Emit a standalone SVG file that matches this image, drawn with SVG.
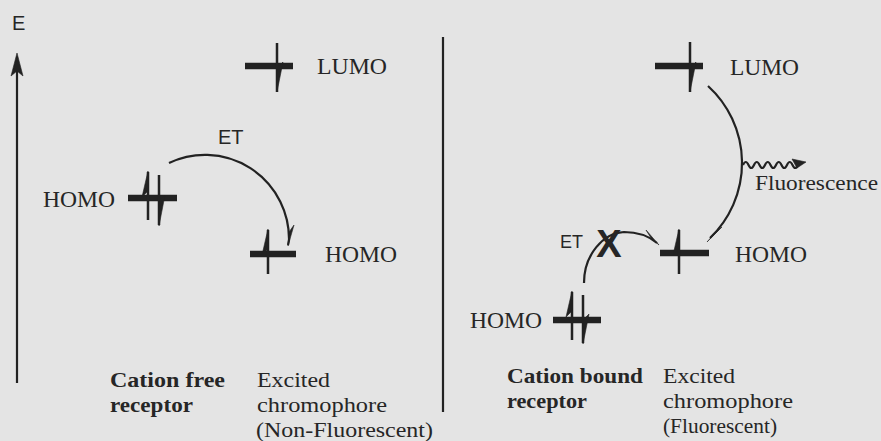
<svg xmlns="http://www.w3.org/2000/svg" width="881" height="441" viewBox="0 0 881 441">
<style>
.bg{fill:#e4e4e4}
.lvl{stroke:#222;stroke-width:6.5;fill:none}
.el{stroke:#222;stroke-width:2.5;fill:none}
.hd{fill:#222;stroke:#222;stroke-width:0.6;stroke-linejoin:round}
.ln{stroke:#222;stroke-width:2.2;fill:none}
.serif{font-family:"Liberation Serif","Times New Roman",serif;fill:#262626}
.lab{font-size:23px}
.cap{font-size:22px}
.bold{font-weight:bold}
.sans{font-family:"Liberation Sans",Arial,sans-serif;fill:#262626}
</style>
<rect class="bg" x="0" y="0" width="881" height="441"/>

<g id="energy-axis">
<text class="sans" x="12" y="30" font-size="20">E</text>
<line class="ln" x1="17" y1="383" x2="17" y2="70"/>
<polygon class="hd" points="17,53 11,76 17,71 23,76"/>
</g>

<line id="divider" class="ln" x1="443" y1="37" x2="443" y2="412"/>

<g id="left-lumo">
<line class="lvl" x1="245" y1="66" x2="293" y2="66"/>
<line class="el" x1="277" y1="43" x2="277" y2="92"/>
<polygon class="hd" points="277,92 283,62 277,68"/>
<text class="serif lab" x="317" y="74" textLength="70" lengthAdjust="spacingAndGlyphs">LUMO</text>
</g>

<g id="left-receptor-homo">
<text class="serif lab" x="43" y="207" textLength="72" lengthAdjust="spacingAndGlyphs">HOMO</text>
<line class="lvl" x1="128" y1="198" x2="177" y2="198"/>
<line class="el" x1="148" y1="172" x2="148" y2="220"/>
<polygon class="hd" points="148,171 142,197 148,191"/>
<line class="el" x1="159" y1="175" x2="159" y2="225"/>
<polygon class="hd" points="159,226 165,195 159,201"/>
</g>

<g id="left-chromophore-homo">
<line class="lvl" x1="250" y1="254" x2="296" y2="254"/>
<line class="el" x1="268" y1="230" x2="268" y2="274"/>
<polygon class="hd" points="268,229 262,255 268,249"/>
<text class="serif lab" x="325" y="262" textLength="72" lengthAdjust="spacingAndGlyphs">HOMO</text>
</g>

<g id="left-captions">
<text class="serif cap bold" x="110" y="387" textLength="115" lengthAdjust="spacingAndGlyphs">Cation free</text>
<text class="serif cap bold" x="110" y="412" textLength="83" lengthAdjust="spacingAndGlyphs">receptor</text>
<text class="serif cap" x="257" y="387" textLength="73" lengthAdjust="spacingAndGlyphs">Excited</text>
<text class="serif cap" x="257" y="412" textLength="130" lengthAdjust="spacingAndGlyphs">chromophore</text>
<text class="serif cap" x="256" y="437" textLength="177" lengthAdjust="spacingAndGlyphs">(Non-Fluorescent)</text>
</g>

<g id="right-lumo">
<line class="lvl" x1="655" y1="66" x2="703" y2="66"/>
<line class="el" x1="690" y1="42" x2="690" y2="92"/>
<polygon class="hd" points="690,92 696,62 690,68"/>
<text class="serif lab" x="730" y="75" textLength="69" lengthAdjust="spacingAndGlyphs">LUMO</text>
</g>

<g id="right-chromophore-homo">
<line class="lvl" x1="660" y1="253" x2="709" y2="253"/>
<line class="el" x1="679" y1="230" x2="679" y2="274"/>
<polygon class="hd" points="679,229 673,255 679,249"/>
<text class="serif lab" x="735" y="262" textLength="72" lengthAdjust="spacingAndGlyphs">HOMO</text>
</g>

<g id="right-receptor-homo">
<text class="serif lab" x="470" y="328" textLength="72" lengthAdjust="spacingAndGlyphs">HOMO</text>
<line class="lvl" x1="553" y1="320" x2="601" y2="320"/>
<line class="el" x1="572" y1="292" x2="572" y2="340"/>
<polygon class="hd" points="572,291 566,317 572,311"/>
<line class="el" x1="583" y1="295" x2="583" y2="343"/>
<polygon class="hd" points="583,344 589,314 583,320"/>
</g>

<g id="right-captions">
<text class="serif cap bold" x="507" y="383" textLength="136" lengthAdjust="spacingAndGlyphs">Cation bound</text>
<text class="serif cap bold" x="507" y="408" textLength="80" lengthAdjust="spacingAndGlyphs">receptor</text>
<text class="serif cap" x="663" y="383" textLength="72" lengthAdjust="spacingAndGlyphs">Excited</text>
<text class="serif cap" x="663" y="408" textLength="130" lengthAdjust="spacingAndGlyphs">chromophore</text>
<text class="serif cap" x="663" y="433" textLength="114" lengthAdjust="spacingAndGlyphs">(Fluorescent)</text>
</g>

<g id="connectors">
<g id="et-left">
<path class="ln" d="M169,163 A84,84 0 0 1 289,240 L288,245"/>
<polygon class="hd" points="288,246 294,225 289,232"/>
<text class="sans" x="218" y="144" font-size="20">ET</text>
</g>
<g id="fluorescence-decay">
<path class="ln" d="M708,86 A104,104 0 0 1 710,238"/>
<polygon class="hd" points="707,242 722,227 715,233"/>
<path class="ln" stroke-width="2.6" d="M743,165 q2.75,-6 5.5,0 t5.5,0 t5.5,0 t5.5,0 t5.5,0 t5.5,0 t5.5,0 t5.5,0 t5.5,0 t5.5,0"/>
<polygon class="hd" points="806,162 792,159 797,168"/>
<text class="serif cap" x="755" y="190" textLength="123" lengthAdjust="spacingAndGlyphs">Fluorescence</text>
</g>
<g id="et-right-blocked">
<path class="ln" d="M584,283 C584,255 603,233 624,232 C640,232 650,237 657,243"/>
<polygon class="hd" points="659,245 646,230 651,238"/>
<text class="sans" x="560" y="248" font-size="18">ET</text>
<text class="sans bold" x="609" y="257" font-size="38" text-anchor="middle">X</text>
</g>
</g>
</svg>
